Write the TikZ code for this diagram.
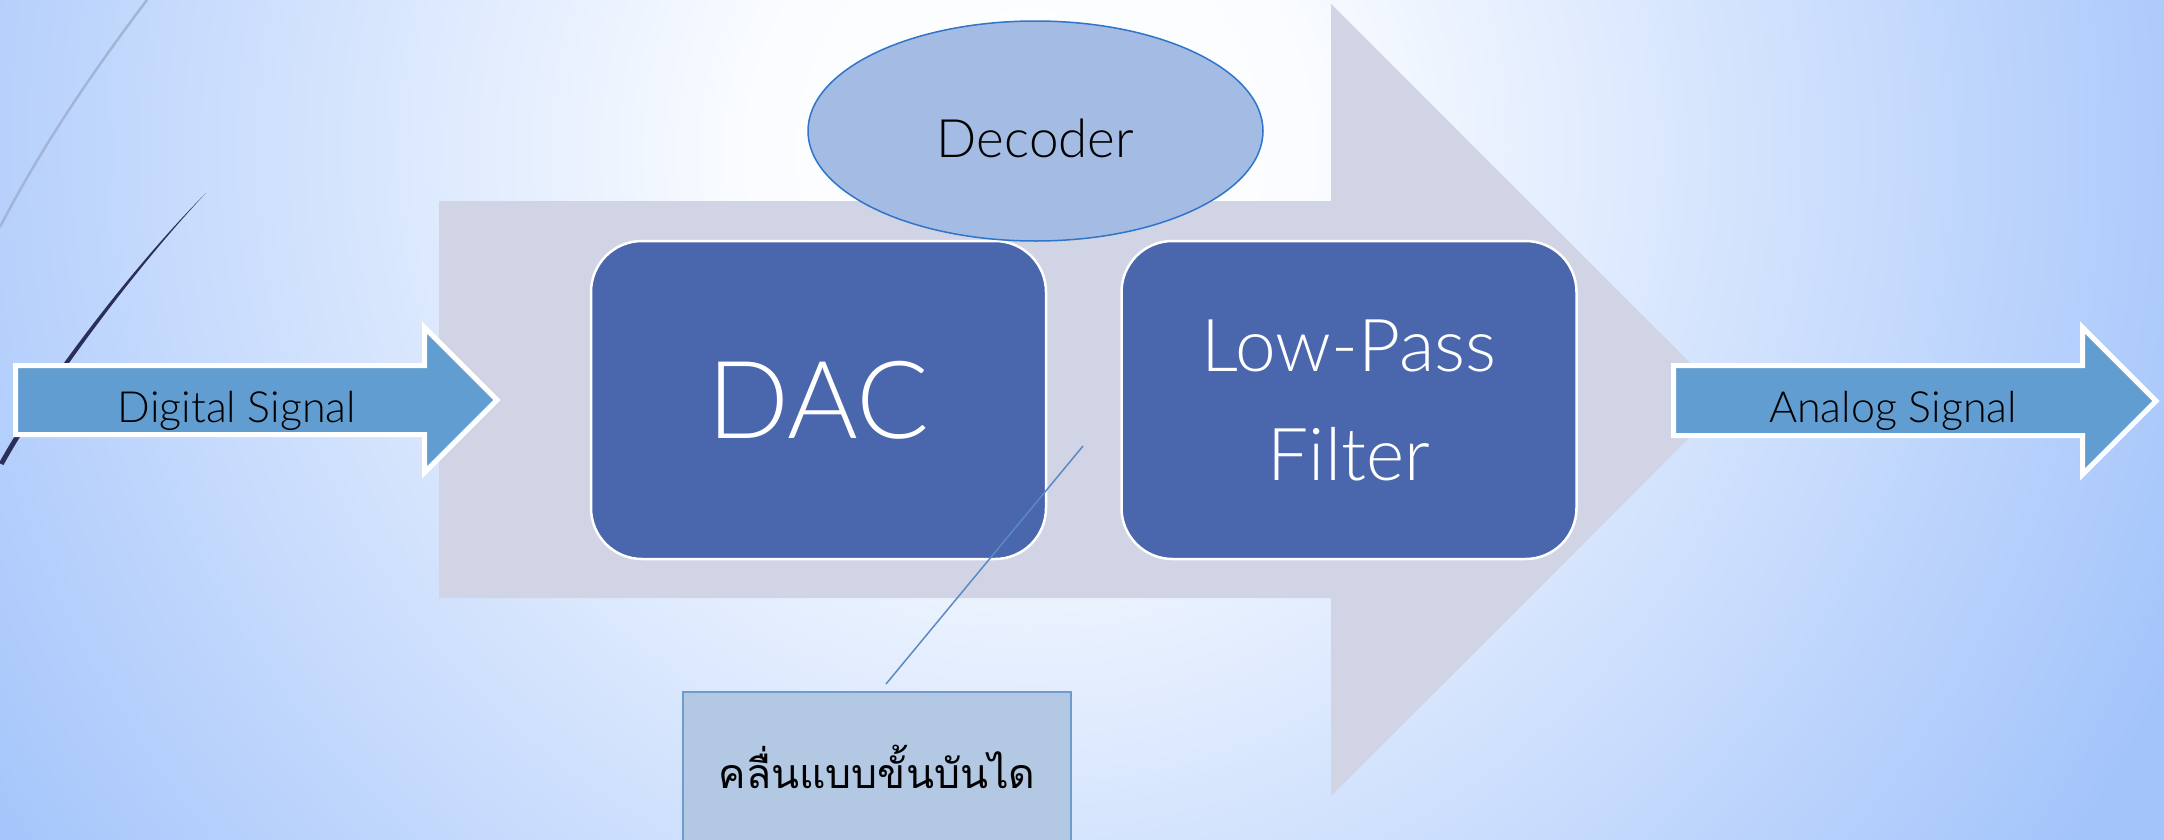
\documentclass[tikz,border=0pt]{standalone}
\usepackage{fontspec}
\setmainfont{Lato}[UprightFont={* Light}]
\newfontfamily\thaifont[Script=Thai]{Loma}
\usetikzlibrary{shapes.geometric}
\definecolor{bgblue}{HTML}{A3C4FB}
\definecolor{bgwhite}{HTML}{FAFCFF}
\definecolor{bigarrowc}{HTML}{D0D4E5}
\definecolor{boxblue}{HTML}{4A66AC}
\definecolor{ellfill}{HTML}{A4BBE3}
\definecolor{elldraw}{HTML}{2F75C9}
\definecolor{arrfill}{HTML}{629DD1}
\definecolor{thaifill}{HTML}{B3C9E3}
\definecolor{thaidraw}{HTML}{6F9BCD}
\definecolor{calloutc}{HTML}{5A8AC6}
\definecolor{lightcurvec}{HTML}{A3B5D6}
\definecolor{darkcurvec}{HTML}{2A2F5A}
\pgfdeclareradialshading{bgshade}{\pgfpoint{0bp}{0bp}}{color(0bp)=(white); color(280bp)=(bgwhite); color(1250bp)=(bgblue); color(1500bp)=(bgblue)}
\tikzset{
  blockbox/.style={draw=white, line width=2.5pt, fill=boxblue, rounded corners=51pt,
    minimum width=455pt, minimum height=318pt, inner sep=0pt, text=white, align=center},
  sigarrow/.style={draw=white, line width=5pt, fill=arrfill, miter limit=10},
  siglabel/.style={anchor=base, inner sep=0pt, font=\fontsize{43}{50}\selectfont},
}
\begin{document}
\begin{tikzpicture}[x=1pt,y=-1pt]
\useasboundingbox (0,0) rectangle (2164,839);
\begin{scope}
\clip (0,0) rectangle (2164,839);
\fill[bgblue] (0,0) rectangle (2164,839);
\node[inner sep=0pt, outer sep=0pt] (bgshadenode) at (1030,150) {\pgfuseshading{bgshade}};
\end{scope}
% decorative curves
\draw[lightcurvec, line width=2.5pt] (147,0) .. controls (100,62) and (45,140) .. (0,227);
\fill[darkcurvec] (206,193) .. controls (136,263) and (44,382) .. (-1,463)
  -- (3.5,465) .. controls (48,385) and (138,265) .. (206,193) -- cycle;
% big background arrow
\fill[bigarrowc] (439,201) -- (1331,201) -- (1331,4) -- (1727,400) -- (1331,796) -- (1331,598) -- (439,598) -- cycle;
% input / output arrows
\draw[sigarrow] (15.5,365.5) -- (424.5,365.5) -- (424.5,327.5) -- (497,400) -- (424.5,472.5) -- (424.5,434.5) -- (15.5,434.5) -- cycle;
\node[siglabel] (digital) at (237,422) {Digital Signal};
\draw[sigarrow] (1673.5,365.5) -- (2082.5,365.5) -- (2082.5,327.5) -- (2156,401) -- (2082.5,474.5) -- (2082.5,435.5) -- (1673.5,435.5) -- cycle;
\node[siglabel] (analog) at (1893,422) {Analog Signal};
% blocks
\node[blockbox, font=\fontsize{108}{130}\selectfont] (dac) at (818.5,400) {DAC};
\node[blockbox, font=\fontsize{73}{109}\selectfont] (lpf) at (1349,400) {Low-Pass\\Filter};
% decoder
\node[ellipse, draw=elldraw, line width=1.5pt, fill=ellfill, minimum width=455pt, minimum height=220pt,
  inner sep=0pt, text height=52pt, text depth=0pt, font=\fontsize{53}{60}\selectfont] (decoder) at (1035.5,131) {Decoder};
% callout
\coordinate (ctip) at (1083,446);
\coordinate (cbase) at (886,684);
\draw[calloutc, line width=1.5pt] (cbase) -- (ctip);
\node[draw=thaidraw, line width=1.5pt, fill=thaifill, minimum width=388pt, minimum height=163pt, inner sep=0pt,
  text height=29pt, text depth=0pt, font=\thaifont\fontsize{41}{50}\selectfont] (thai) at (877,773.5) {คลื่นแบบขั้นบันได};
\end{tikzpicture}
\end{document}
